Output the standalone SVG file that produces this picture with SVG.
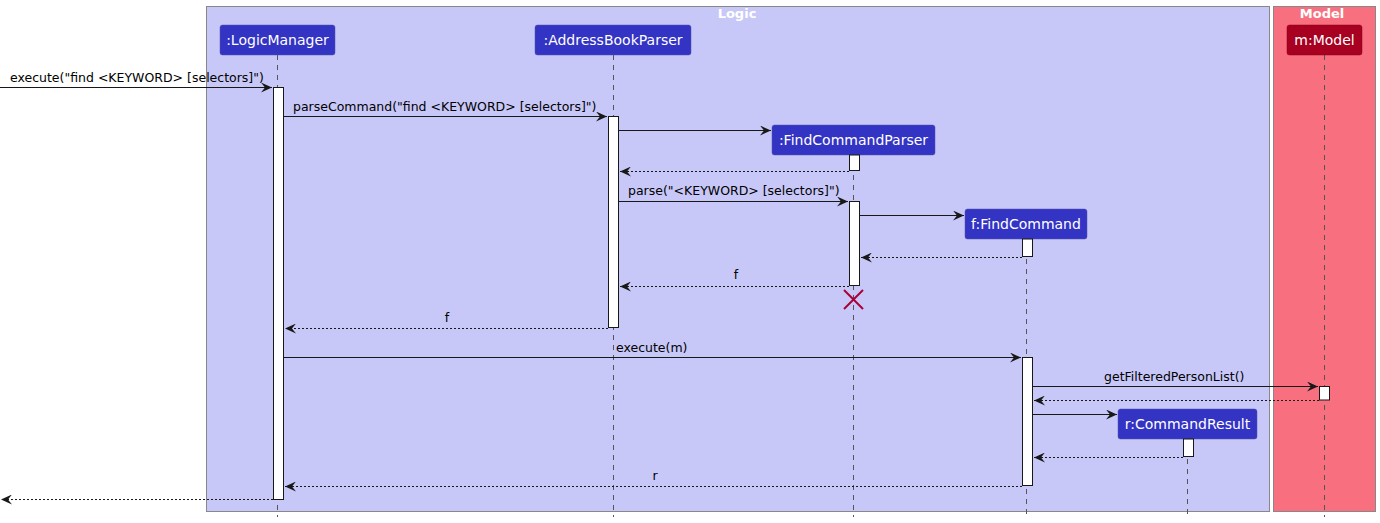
<svg xmlns="http://www.w3.org/2000/svg" width="1380" height="523" viewBox="0 0 1380 523">
<defs>
<marker id="ah" viewBox="0 0 11 10" refX="11" refY="5" markerWidth="11" markerHeight="10" markerUnits="userSpaceOnUse" orient="auto">
<polygon points="0,0 11,5 0,10 4,5" fill="#181818"/>
</marker>
</defs>
<style>
text{font-family:"DejaVu Sans","Noto Sans",sans-serif}
.box{stroke:#888888;stroke-width:1}
.ttl{fill:#ffffff;font-weight:bold;font-size:13px;text-anchor:middle}
.part{fill:#3333C4;stroke:#5555aa;stroke-width:0.5}
.ptxt{fill:#ffffff;font-size:14px;text-anchor:middle}
.life{stroke:#555555;stroke-width:1;stroke-dasharray:5,5;fill:none}
.act{fill:#ffffff;stroke:#181818;stroke-width:1}
.msg{stroke:#181818;stroke-width:1;fill:none;marker-end:url(#ah)}
.ret{stroke:#181818;stroke-width:1;fill:none;stroke-dasharray:2,2;marker-end:url(#ah)}
.lbl{fill:#000000;font-size:12.5px}
</style>
<rect width="1380" height="523" fill="#ffffff"/>
<g id="box-logic">
<rect class="box" x="206.5" y="6.5" width="1063" height="505" fill="#C8C8F8"/>
<text class="ttl" x="737" y="18">Logic</text>
</g>
<g id="box-model">
<rect class="box" x="1273.5" y="6.5" width="102" height="505" fill="#F87080"/>
<text class="ttl" x="1322" y="18">Model</text>
</g>
<g id="lifelines">
<line class="life" x1="277.5" y1="55" x2="277.5" y2="517"/>
<line class="life" x1="613.5" y1="55" x2="613.5" y2="517"/>
<line class="life" x1="853.5" y1="155" x2="853.5" y2="517"/>
<line class="life" x1="1026.5" y1="239" x2="1026.5" y2="517"/>
<line class="life" x1="1187.5" y1="439" x2="1187.5" y2="517"/>
<line class="life" x1="1324.5" y1="55" x2="1324.5" y2="517"/>
</g>
<g id="p-logicmanager">
<rect class="part" x="220" y="25" width="115" height="30" rx="2.5"/>
<text class="ptxt" x="277.5" y="45">:LogicManager</text>
<rect class="act" x="273.5" y="87.5" width="10" height="412"/>
</g>
<g id="p-addressbookparser">
<rect class="part" x="535" y="25" width="156" height="30" rx="2.5"/>
<text class="ptxt" x="613" y="45">:AddressBookParser</text>
<rect class="act" x="608.5" y="116.5" width="10" height="211"/>
</g>
<g id="p-findcommandparser">
<rect class="part" x="772" y="125" width="163" height="30" rx="2.5"/>
<text class="ptxt" x="853.5" y="145">:FindCommandParser</text>
<rect class="act" x="849.5" y="155" width="10" height="15.5"/>
<rect class="act" x="849.5" y="201.5" width="10" height="84"/>
<g stroke="#A80036" stroke-width="2">
<line x1="844" y1="290" x2="863" y2="309"/>
<line x1="863" y1="290" x2="844" y2="309"/>
</g>
</g>
<g id="p-findcommand">
<rect class="part" x="965" y="209" width="122" height="30" rx="2.5"/>
<text class="ptxt" x="1026" y="229">f:FindCommand</text>
<rect class="act" x="1022.5" y="239" width="10" height="17.5"/>
<rect class="act" x="1022.5" y="357.5" width="10" height="128"/>
</g>
<g id="p-commandresult">
<rect class="part" x="1118" y="409" width="139" height="30" rx="2.5"/>
<text class="ptxt" x="1187.5" y="429">r:CommandResult</text>
<rect class="act" x="1183.5" y="439" width="10" height="17.5"/>
</g>
<g id="p-model">
<rect x="1287" y="25" width="75" height="30" rx="2.5" fill="#A80020" stroke="#880018" stroke-width="0.5"/>
<text class="ptxt" x="1324.5" y="45">m:Model</text>
<rect class="act" x="1319.5" y="386.5" width="10" height="13.5"/>
</g>
<g id="connectors">
<line class="msg" x1="0" y1="87.5" x2="272" y2="87.5"/>
<text class="lbl" x="10" y="82">execute("find &lt;KEYWORD&gt; [selectors]")</text>
<line class="msg" x1="284" y1="116.5" x2="607" y2="116.5"/>
<text class="lbl" x="293" y="111">parseCommand("find &lt;KEYWORD&gt; [selectors]")</text>
<line class="msg" x1="619" y1="130.5" x2="771" y2="130.5"/>
<line class="ret" x1="849" y1="171.5" x2="620" y2="171.5"/>
<line class="msg" x1="619" y1="201.5" x2="848" y2="201.5"/>
<text class="lbl" x="628" y="195">parse("&lt;KEYWORD&gt; [selectors]")</text>
<line class="msg" x1="860" y1="215.5" x2="964" y2="215.5"/>
<line class="ret" x1="1022" y1="257.5" x2="861" y2="257.5"/>
<line class="ret" x1="849" y1="286.5" x2="620" y2="286.5"/>
<text class="lbl" x="736" y="279" text-anchor="middle">f</text>
<line class="ret" x1="608" y1="328.5" x2="285" y2="328.5"/>
<text class="lbl" x="447" y="322" text-anchor="middle">f</text>
<line class="msg" x1="284" y1="357.5" x2="1021" y2="357.5"/>
<text class="lbl" x="616" y="352">execute(m)</text>
<line class="msg" x1="1033" y1="386.5" x2="1318" y2="386.5"/>
<text class="lbl" x="1104" y="381">getFilteredPersonList()</text>
<line class="ret" x1="1319" y1="400.5" x2="1034" y2="400.5"/>
<line class="msg" x1="1033" y1="414.5" x2="1117" y2="414.5"/>
<line class="ret" x1="1183" y1="457.5" x2="1034" y2="457.5"/>
<line class="ret" x1="1022" y1="486.5" x2="285" y2="486.5"/>
<text class="lbl" x="655" y="480" text-anchor="middle">r</text>
<line class="ret" x1="273" y1="499.5" x2="1" y2="499.5"/>
</g>
</svg>
